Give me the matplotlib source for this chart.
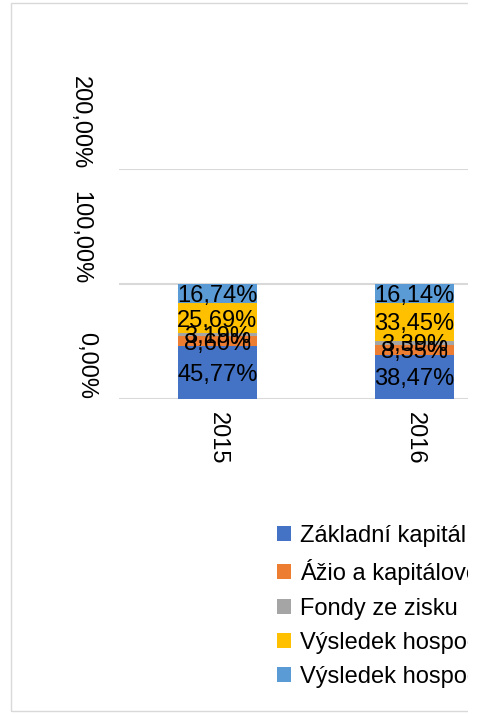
import matplotlib
matplotlib.use("Agg")
import matplotlib.pyplot as plt
from matplotlib.patches import Rectangle
from matplotlib.transforms import ScaledTranslation
import numpy as np

plt.rcParams['font.family'] = ['Liberation Sans', 'DejaVu Sans']

years = ["2015", "2016"]
series_names = [
    "Základní kapitál",
    "Ážio a kapitálové fondy",
    "Fondy ze zisku",
    "Výsledek hospodaření minulých let",
    "Výsledek hospodaření běžného účetního období",
]
zakladni = [45.77, 38.47]
azio = [8.60, 8.55]
fondy = [3.19, 3.39]
vh_minule = [25.69, 33.45]
vh_bezne = [16.74, 16.14]
values = [zakladni, azio, fondy, vh_minule, vh_bezne]
colors = ["#4472C4", "#ED7D31", "#A5A5A5", "#FFC000", "#5B9BD5"]
yticks = [0, 100, 200]
ytick_labels = ["0,00%", "100,00%", "200,00%"]

W, H = 480, 715
fig = plt.figure(figsize=(W / 100, H / 100), dpi=100)
ax = fig.add_axes([119 / W, (H - 399) / H, 349 / W, 230 / H])

x = np.arange(len(years))
bottom = np.zeros(len(years))
handles = []
for name, vals, c in zip(series_names, values, colors):
    vals = np.array(vals)
    bars = ax.bar(x, vals, width=0.40, bottom=bottom, color=c, label=name, zorder=3)
    texts = ax.bar_label(bars, labels=[f"{v:.2f}%".replace('.', ',') for v in vals],
                         label_type='center', fontsize=17, color='black', zorder=4)
    for t in texts:
        t.set_va('center_baseline')
    handles.append(bars)
    bottom += vals

ax.set_xlim(-0.5, 349 / 197 - 0.5)
ax.set_ylim(0, 200)
ax.set_yticks(yticks)
ax.set_yticklabels(ytick_labels, fontsize=17)
ax.set_xticks(x)
ax.set_xticklabels(years, fontsize=17, rotation=-90, ha='center', va='top')
ax.tick_params(axis='y', length=0, pad=20)
ax.tick_params(axis='x', length=0, pad=9)
plt.setp(ax.get_yticklabels(), rotation=-90, va='bottom', ha='right')
lab0 = ax.yaxis.get_major_ticks()[0].label1
lab0.set_transform(lab0.get_transform() + ScaledTranslation(6 / 100, 0, fig.dpi_scale_trans))
ax.grid(axis='y', color='#D9D9D9', linewidth=1.5, zorder=0)
ax.set_axisbelow(True)
for s in ax.spines.values():
    s.set_visible(False)

fig.legend(handles=handles, labels=series_names, loc='upper left',
           bbox_to_anchor=(277 / W, 1 - 525 / H), frameon=False, fontsize=17,
           handlelength=0.6, handleheight=0.6, handletextpad=0.38,
           labelspacing=0.52, borderpad=0, borderaxespad=0)

# outer chart border (light gray)
fig.add_artist(Rectangle((11 / W, 1 - 711 / H), 1.0, (711 - 3) / H,
                         transform=fig.transFigure, fill=False,
                         edgecolor='#D9D9D9', linewidth=1.0, zorder=50))
# right side is cut off
fig.add_artist(Rectangle((468 / W, 0), 1, 1, transform=fig.transFigure,
                         facecolor='white', edgecolor='none', zorder=100))

fig.savefig("out.png", dpi=100)
